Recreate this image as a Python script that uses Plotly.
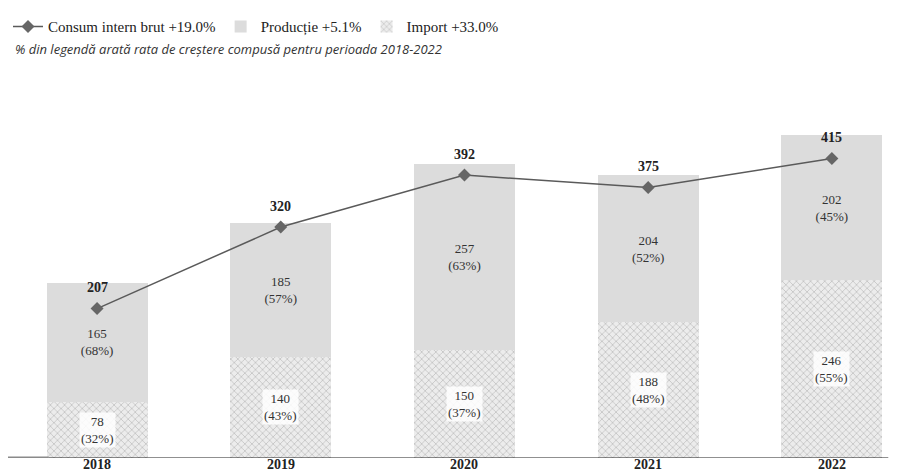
import plotly.graph_objects as go

years = ["2018", "2019", "2020", "2021", "2022"]
productie = [165, 185, 257, 204, 202]
productie_pct = [68, 57, 63, 52, 45]
import_vals = [78, 140, 150, 188, 246]
import_pct = [32, 43, 37, 48, 55]
consum = [207, 320, 392, 375, 415]

legend_consum = "Consum intern brut +19.0%"
legend_productie = "Producție +5.1%"
legend_import = "Import +33.0%"
subtitle = "% din legendă arată rata de creștere compusă pentru perioada 2018-2022"

SERIF = "Liberation Serif"
idx = list(range(len(years)))

fig = go.Figure()

fig.add_trace(go.Bar(
    x=idx, y=import_vals, name=legend_import, width=0.55,
    marker=dict(color="#ececec", line=dict(width=0),
                pattern=dict(shape="x", fgcolor="#6e6e6e", bgcolor="#ececec",
                             size=5, solidity=0.2)),
    hoverinfo="skip",
))
fig.add_trace(go.Bar(
    x=idx, y=productie, name=legend_productie, width=0.55,
    marker=dict(color="#dcdcdc", line=dict(width=0)),
    text=[f"{v}<br>({p}%)" for v, p in zip(productie, productie_pct)],
    textposition="inside", insidetextanchor="middle",
    textfont=dict(family=SERIF, size=13, color="#333333"),
    hoverinfo="skip",
))
fig.add_trace(go.Scatter(
    x=idx, y=consum, name=legend_consum, mode="lines+markers",
    line=dict(color="#5a5a5a", width=1.5),
    marker=dict(symbol="diamond", size=10, color="#666666"),
    hoverinfo="skip",
))

annotations = []
for i, v in zip(idx, consum):
    annotations.append(dict(x=i, y=v, xref="x", yref="y", text=f"<b>{v}</b>", showarrow=False,
                            yshift=21, font=dict(family=SERIF, size=14, color="#222222")))
for i, v, p in zip(idx, import_vals, import_pct):
    annotations.append(dict(x=i, y=v / 2, xref="x", yref="y", text=f"{v}<br>({p}%)",
                            showarrow=False, bgcolor="rgba(255,255,255,0.85)", borderpad=1,
                            font=dict(family=SERIF, size=13, color="#333333")))
for i, yr in zip(idx, years):
    annotations.append(dict(x=i, y=0, xref="x", yref="y", yanchor="top", yshift=2,
                            borderpad=0, text=f"<b>{yr}</b>", showarrow=False,
                            font=dict(family=SERIF, size=14, color="#222222")))
annotations.append(dict(xref="paper", yref="paper", x=0.005, y=1.17,
                        xanchor="left", yanchor="middle", text=f"<i>{subtitle}</i>",
                        showarrow=False, font=dict(family="Open Sans", size=13, color="#333333")))

fig.update_layout(
    width=901, height=474,
    margin=dict(l=0, r=0, t=100, b=24),
    paper_bgcolor="white", plot_bgcolor="white",
    barmode="stack",
    showlegend=True,
    legend=dict(orientation="h", xref="container", yref="container", x=0.0, y=0.995,
                xanchor="left", yanchor="top", traceorder="reversed",
                font=dict(family=SERIF, size=15, color="#222222"),
                itemwidth=30, tracegroupgap=0),
    annotations=annotations,
    shapes=[
        dict(type="line", xref="paper", yref="y", x0=0, x1=0.045, y0=0, y1=0,
             line=dict(color="#8a8a8a", width=3)),
        dict(type="line", xref="paper", yref="y", x0=0.045, x1=0.977, y0=0, y1=0,
             line=dict(color="#222222", width=1.2)),
    ],
    xaxis=dict(range=[-0.485, 4.42], showgrid=False, showline=False, zeroline=False,
               showticklabels=False, ticks=""),
    yaxis=dict(range=[0, 485], visible=False, showgrid=False, zeroline=False),
)

fig.write_html("out.html")
